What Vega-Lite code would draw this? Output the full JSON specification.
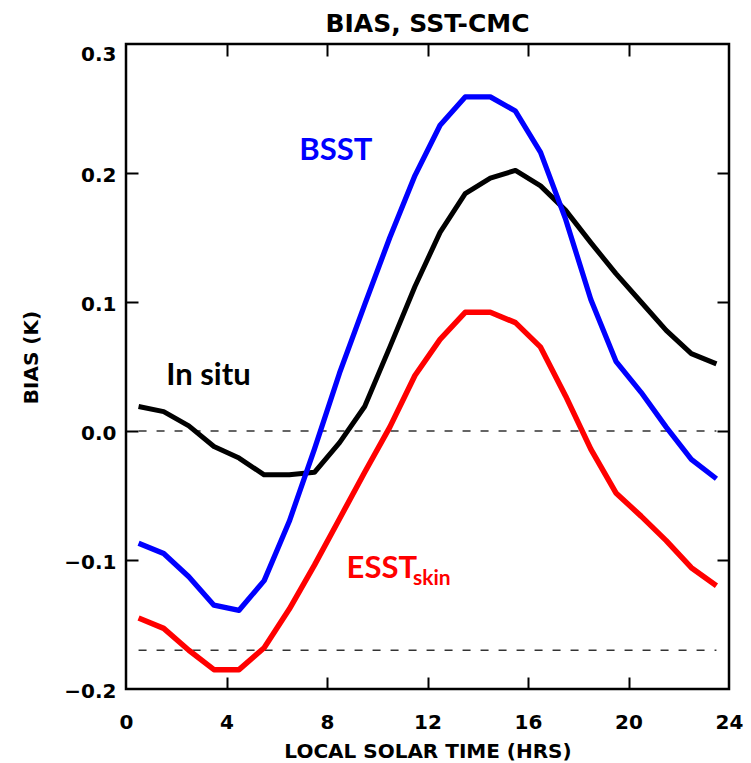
{
  "$schema": "https://vega.github.io/schema/vega-lite/v6.json",
  "width": 603,
  "height": 645,
  "autosize": {"type": "none"},
  "padding": {"left": 126, "top": 44, "right": 22, "bottom": 74},
  "background": "white",
  "config": {
    "view": {"stroke": "#000000", "strokeWidth": 2.5},
    "axis": {
      "grid": false,
      "domain": false,
      "tickColor": "#000000",
      "tickWidth": 2,
      "tickSize": 12,
      "offset": -12,
      "labelFont": "DejaVu Sans",
      "labelFontWeight": "bold",
      "labelFontSize": 20,
      "labelColor": "#000000",
      "labelOverlap": false,
      "labelBound": false,
      "titleFont": "DejaVu Sans",
      "titleFontWeight": "bold",
      "titleFontSize": 20,
      "titleColor": "#000000"
    }
  },
  "title": {
    "text": "BIAS, SST-CMC",
    "font": "DejaVu Sans",
    "fontWeight": "bold",
    "fontSize": 25,
    "color": "#000000",
    "anchor": "middle",
    "baseline": "alphabetic",
    "offset": -14
  },
  "datasets": {
    "lines": [
      {"series": "In situ", "hour": 0.5, "bias": 0.019},
      {"series": "In situ", "hour": 1.5, "bias": 0.015},
      {"series": "In situ", "hour": 2.5, "bias": 0.004},
      {"series": "In situ", "hour": 3.5, "bias": -0.012},
      {"series": "In situ", "hour": 4.5, "bias": -0.021},
      {"series": "In situ", "hour": 5.5, "bias": -0.034},
      {"series": "In situ", "hour": 6.5, "bias": -0.034},
      {"series": "In situ", "hour": 7.5, "bias": -0.032},
      {"series": "In situ", "hour": 8.5, "bias": -0.009},
      {"series": "In situ", "hour": 9.5, "bias": 0.019},
      {"series": "In situ", "hour": 10.5, "bias": 0.065},
      {"series": "In situ", "hour": 11.5, "bias": 0.112},
      {"series": "In situ", "hour": 12.5, "bias": 0.154},
      {"series": "In situ", "hour": 13.5, "bias": 0.184},
      {"series": "In situ", "hour": 14.5, "bias": 0.196},
      {"series": "In situ", "hour": 15.5, "bias": 0.202},
      {"series": "In situ", "hour": 16.5, "bias": 0.19},
      {"series": "In situ", "hour": 17.5, "bias": 0.171},
      {"series": "In situ", "hour": 18.5, "bias": 0.146},
      {"series": "In situ", "hour": 19.5, "bias": 0.122},
      {"series": "In situ", "hour": 20.5, "bias": 0.1},
      {"series": "In situ", "hour": 21.5, "bias": 0.078},
      {"series": "In situ", "hour": 22.5, "bias": 0.06},
      {"series": "In situ", "hour": 23.5, "bias": 0.052},
      {"series": "BSST", "hour": 0.5, "bias": -0.087},
      {"series": "BSST", "hour": 1.5, "bias": -0.095},
      {"series": "BSST", "hour": 2.5, "bias": -0.113},
      {"series": "BSST", "hour": 3.5, "bias": -0.135},
      {"series": "BSST", "hour": 4.5, "bias": -0.139},
      {"series": "BSST", "hour": 5.5, "bias": -0.116},
      {"series": "BSST", "hour": 6.5, "bias": -0.07},
      {"series": "BSST", "hour": 7.5, "bias": -0.014},
      {"series": "BSST", "hour": 8.5, "bias": 0.045},
      {"series": "BSST", "hour": 9.5, "bias": 0.098},
      {"series": "BSST", "hour": 10.5, "bias": 0.15},
      {"series": "BSST", "hour": 11.5, "bias": 0.198},
      {"series": "BSST", "hour": 12.5, "bias": 0.237},
      {"series": "BSST", "hour": 13.5, "bias": 0.259},
      {"series": "BSST", "hour": 14.5, "bias": 0.259},
      {"series": "BSST", "hour": 15.5, "bias": 0.248},
      {"series": "BSST", "hour": 16.5, "bias": 0.216},
      {"series": "BSST", "hour": 17.5, "bias": 0.164},
      {"series": "BSST", "hour": 18.5, "bias": 0.102},
      {"series": "BSST", "hour": 19.5, "bias": 0.054},
      {"series": "BSST", "hour": 20.5, "bias": 0.03},
      {"series": "BSST", "hour": 21.5, "bias": 0.003},
      {"series": "BSST", "hour": 22.5, "bias": -0.022},
      {"series": "BSST", "hour": 23.5, "bias": -0.037},
      {"series": "ESST skin", "hour": 0.5, "bias": -0.145},
      {"series": "ESST skin", "hour": 1.5, "bias": -0.153},
      {"series": "ESST skin", "hour": 2.5, "bias": -0.17},
      {"series": "ESST skin", "hour": 3.5, "bias": -0.185},
      {"series": "ESST skin", "hour": 4.5, "bias": -0.185},
      {"series": "ESST skin", "hour": 5.5, "bias": -0.168},
      {"series": "ESST skin", "hour": 6.5, "bias": -0.138},
      {"series": "ESST skin", "hour": 7.5, "bias": -0.104},
      {"series": "ESST skin", "hour": 8.5, "bias": -0.068},
      {"series": "ESST skin", "hour": 9.5, "bias": -0.032},
      {"series": "ESST skin", "hour": 10.5, "bias": 0.003},
      {"series": "ESST skin", "hour": 11.5, "bias": 0.043},
      {"series": "ESST skin", "hour": 12.5, "bias": 0.071},
      {"series": "ESST skin", "hour": 13.5, "bias": 0.092},
      {"series": "ESST skin", "hour": 14.5, "bias": 0.092},
      {"series": "ESST skin", "hour": 15.5, "bias": 0.084},
      {"series": "ESST skin", "hour": 16.5, "bias": 0.065},
      {"series": "ESST skin", "hour": 17.5, "bias": 0.027},
      {"series": "ESST skin", "hour": 18.5, "bias": -0.014},
      {"series": "ESST skin", "hour": 19.5, "bias": -0.048},
      {"series": "ESST skin", "hour": 20.5, "bias": -0.066},
      {"series": "ESST skin", "hour": 21.5, "bias": -0.085},
      {"series": "ESST skin", "hour": 22.5, "bias": -0.106},
      {"series": "ESST skin", "hour": 23.5, "bias": -0.12}
    ],
    "refs": [
      {"start": 0.5, "end": 23.5, "level": 0},
      {"start": 0.5, "end": 23.5, "level": -0.17}
    ],
    "labels": [
      {"series": "BSST", "text": "BSST", "hour": 6.9, "bias": 0.21},
      {"series": "In situ", "text": "In situ", "hour": 1.6, "bias": 0.036},
      {"series": "ESST skin", "text": "ESST", "hour": 8.78, "bias": -0.1136}
    ],
    "sublabels": [
      {"series": "ESST skin", "text": "skin", "hour": 11.42, "bias": -0.1194}
    ]
  },
  "layer": [
    {
      "data": {"name": "refs"},
      "mark": {"type": "rule", "color": "#333333", "strokeWidth": 1.5, "strokeDash": [8, 10]},
      "encoding": {
        "x": {"field": "start", "type": "quantitative", "scale": {"domain": [0, 24], "nice": false, "zero": false},
              "axis": {"orient": "top", "values": [4, 8, 12, 16, 20], "labels": false, "title": null}},
        "x2": {"field": "end"},
        "y": {"field": "level", "type": "quantitative", "scale": {"domain": [-0.2, 0.3], "nice": false, "zero": false},
              "axis": {"orient": "right", "values": [-0.1, 0, 0.1, 0.2], "labels": false, "title": null}}
      }
    },
    {
      "data": {"name": "lines"},
      "mark": {"type": "line", "strokeJoin": "round", "strokeCap": "butt"},
      "encoding": {
        "x": {"field": "hour", "type": "quantitative", "scale": {"domain": [0, 24], "nice": false, "zero": false},
              "axis": {"orient": "bottom", "values": [0, 4, 8, 12, 16, 20, 24], "format": "d", "labelPadding": 23, "labelFlush": false,
                       "tickOpacity": {"condition": {"test": "datum.value == 0 || datum.value == 24", "value": 0}, "value": 1},
                       "title": "LOCAL SOLAR TIME (HRS)", "titleBaseline": "alphabetic", "titleY": 80}},
        "y": {"field": "bias", "type": "quantitative", "scale": {"domain": [-0.2, 0.3], "nice": false, "zero": false},
              "axis": {"orient": "left", "values": [-0.2, -0.1, 0, 0.1, 0.2, 0.3], "format": ".1f", "labelPadding": 10,
                       "tickOpacity": {"condition": {"test": "datum.value < -0.15 || datum.value > 0.25", "value": 0}, "value": 1},
                       "labelOffset": {"condition": {"test": "datum.value > 0.25", "value": 10}, "value": 2},
                       "title": "BIAS (K)", "titleBaseline": "alphabetic", "titleX": -101, "titleY": 313}},
        "color": {"field": "series", "type": "nominal", "scale": {"domain": ["In situ", "BSST", "ESST skin"], "range": ["#000000", "#0000ff", "#ff0000"]}, "legend": null},
        "strokeWidth": {"field": "series", "type": "nominal", "scale": {"domain": ["In situ", "BSST", "ESST skin"], "range": [5, 5.5, 5.5]}, "legend": null},
        "order": {"field": "hour", "type": "quantitative"}
      }
    },
    {
      "data": {"name": "labels"},
      "mark": {"type": "text", "font": "Lato", "fontWeight": "bold", "fontSize": 31, "align": "left", "baseline": "alphabetic"},
      "encoding": {
        "x": {"field": "hour", "type": "quantitative", "scale": {"domain": [0, 24], "nice": false, "zero": false}, "axis": null},
        "y": {"field": "bias", "type": "quantitative", "scale": {"domain": [-0.2, 0.3], "nice": false, "zero": false}, "axis": null},
        "text": {"field": "text"},
        "color": {"field": "series", "type": "nominal", "scale": {"domain": ["In situ", "BSST", "ESST skin"], "range": ["#000000", "#0000ff", "#ff0000"]}, "legend": null}
      }
    },
    {
      "data": {"name": "sublabels"},
      "mark": {"type": "text", "font": "Lato", "fontWeight": "bold", "fontSize": 21, "align": "left", "baseline": "alphabetic"},
      "encoding": {
        "x": {"field": "hour", "type": "quantitative", "scale": {"domain": [0, 24], "nice": false, "zero": false}, "axis": null},
        "y": {"field": "bias", "type": "quantitative", "scale": {"domain": [-0.2, 0.3], "nice": false, "zero": false}, "axis": null},
        "text": {"field": "text"},
        "color": {"field": "series", "type": "nominal", "scale": {"domain": ["In situ", "BSST", "ESST skin"], "range": ["#000000", "#0000ff", "#ff0000"]}, "legend": null}
      }
    }
  ],
  "resolve": {"axis": {"x": "independent", "y": "independent"}}
}
